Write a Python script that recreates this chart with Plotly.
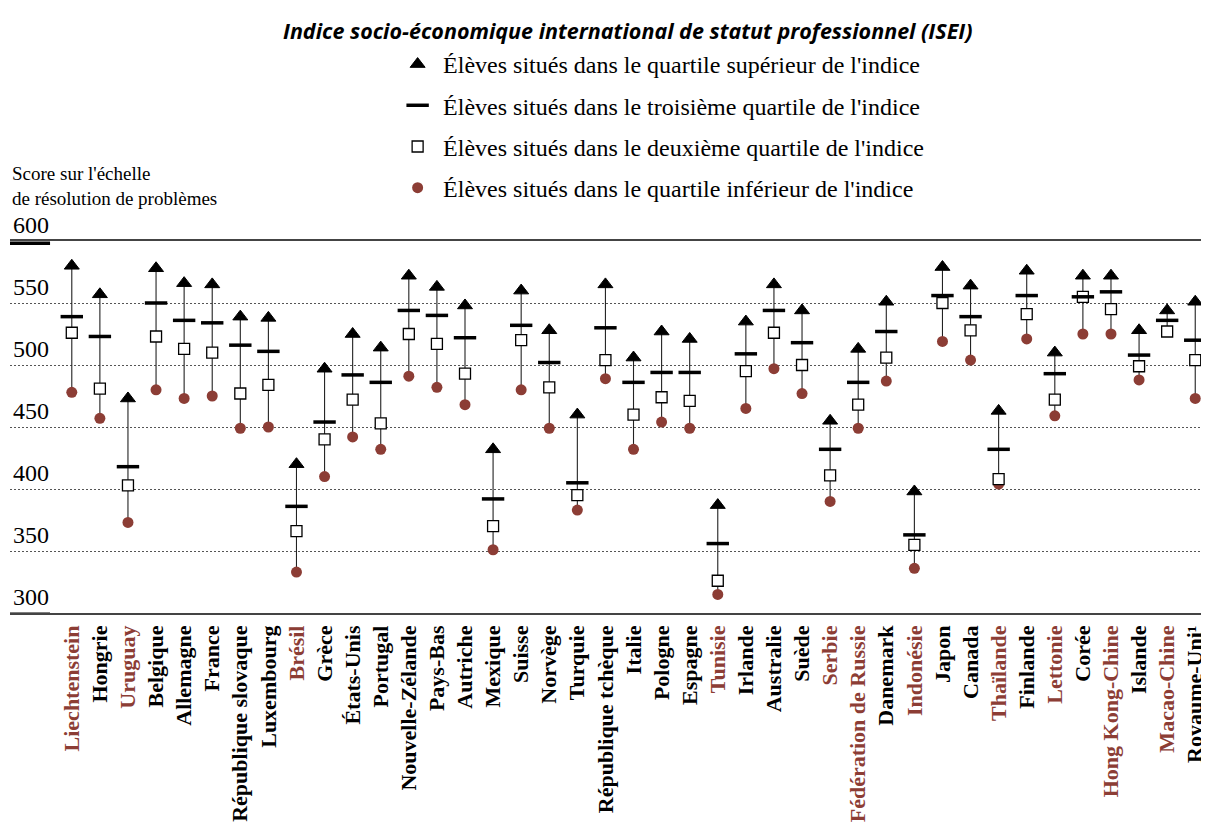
import plotly.graph_objects as go

countries = ["Liechtenstein", "Hongrie", "Uruguay", "Belgique", "Allemagne", "France",
             "République slovaque", "Luxembourg", "Brésil", "Grèce", "États-Unis", "Portugal",
             "Nouvelle-Zélande", "Pays-Bas", "Autriche", "Mexique", "Suisse", "Norvège",
             "Turquie", "République tchèque", "Italie", "Pologne", "Espagne", "Tunisie",
             "Irlande", "Australie", "Suède", "Serbie", "Fédération de Russie", "Danemark",
             "Indonésie", "Japon", "Canada", "Thaïlande", "Finlande", "Lettonie", "Corée",
             "Hong Kong-Chine", "Islande", "Macao-Chine", "Royaume-Uni¹"]
partners = ["Liechtenstein", "Uruguay", "Brésil", "Tunisie", "Serbie", "Fédération de Russie",
            "Indonésie", "Thaïlande", "Lettonie", "Hong Kong-Chine", "Macao-Chine"]

top_quarter = [580, 557, 473, 578, 566, 565, 539, 538, 420, 497, 525, 514, 572, 563, 548, 432,
               560, 528, 460, 565, 506, 527, 521, 387, 535, 565, 544, 455, 513, 551, 398, 579,
               564, 463, 576, 510, 572, 572, 528, 544, 551]
third_quarter = [539, 523, 418, 550, 536, 534, 516, 511, 386, 454, 492, 486, 544, 540, 522, 392,
                 532, 502, 405, 530, 486, 494, 494, 356, 509, 544, 518, 432, 486, 527, 363, 556,
                 539, 432, 556, 493, 555, 559, 508, 536, 520]
second_quarter = [526, 481, 403, 523, 513, 510, 477, 484, 366, 440, 472, 453, 525, 517, 493, 370,
                  520, 482, 395, 504, 460, 474, 471, 326, 495, 526, 500, 411, 468, 506, 355, 550,
                  528, 408, 541, 472, 555, 545, 499, 527, 504]
bottom_quarter = [478, 457, 373, 480, 473, 475, 449, 450, 333, 410, 442, 432, 491, 482, 468, 351,
                  480, 449, 383, 489, 432, 454, 449, 315, 465, 497, 477, 390, 449, 487, 336, 519,
                  504, 404, 521, 459, 525, 525, 488, 527, 473]

y_ticks = [300, 350, 400, 450, 500, 550, 600]

RED = "#8C3D35"
SERIF = "Liberation Serif"

idx = list(range(len(countries)))
ticktext = [f"<span style='color:{RED}'>{c}</span>" if c in partners else c for c in countries]

# connector segments from bottom to top quarter
lx, ly = [], []
for i in idx:
    lx += [i, i, None]
    ly += [bottom_quarter[i], top_quarter[i], None]

fig = go.Figure()
fig.add_trace(go.Scatter(x=lx, y=ly, mode="lines", line=dict(color="#222", width=1.1),
                         showlegend=False, hoverinfo="skip"))
fig.add_trace(go.Scatter(x=idx, y=bottom_quarter, mode="markers", legendrank=4, legendgroup="d",
                         name="Élèves situés dans le quartile inférieur de l'indice",
                         marker=dict(symbol="circle", size=11, color=RED)))
fig.add_trace(go.Scatter(x=idx, y=second_quarter, mode="markers", legendrank=3, legendgroup="c",
                         name="Élèves situés dans le deuxième quartile de l'indice",
                         marker=dict(symbol="square", size=11, color="white",
                                     line=dict(color="black", width=1.3))))
fig.add_trace(go.Scatter(x=idx, y=third_quarter, mode="markers", legendrank=2, legendgroup="b",
                         name="Élèves situés dans le troisième quartile de l'indice",
                         marker=dict(symbol="line-ew", size=16, color="black",
                                     line=dict(color="black", width=3.5))))
fig.add_trace(go.Scatter(x=idx, y=top_quarter, mode="markers", legendrank=1, legendgroup="a",
                         name="Élèves situés dans le quartile supérieur de l'indice",
                         marker=dict(symbol="triangle-up", size=13, color="black",
                                     line=dict(color="black", width=1))))

# page has an 8px body margin: figure is sized so that the plot area lands at x 10-1209, y 241-613
fig.update_layout(
    width=1201, height=816,
    margin=dict(l=2, r=0, t=233, b=211),
    paper_bgcolor="white", plot_bgcolor="white",
    font=dict(family=SERIF, color="black"),
    legend=dict(x=0.3187, y=1.535, xanchor="left", yanchor="top", tracegroupgap=7,
                itemwidth=41,
                font=dict(family=SERIF, size=24, color="black"), bgcolor="rgba(0,0,0,0)"),
    xaxis=dict(range=[-2.2, 40.49], tickmode="array", tickvals=idx, ticktext=ticktext,
               tickangle=-90, ticks="", showgrid=False, zeroline=False,
               showline=True, mirror=True, linecolor="#444", linewidth=1.5,
               tickfont=dict(family=SERIF, size=22, color="black", weight="bold"),
               ticklabelstandoff=2),
    yaxis=dict(range=[300, 600], tickmode="array", tickvals=y_ticks,
               ticklabelposition="inside top", ticklabeloverflow="allow",
               tickfont=dict(family=SERIF, size=24, color="black"),
               showgrid=True, gridcolor="#555", griddash="2px,2px", gridwidth=1.3,
               zeroline=False, showline=False, ticks=""),
)

fig.add_annotation(text="<b><i>Indice socio-économique international de statut professionnel (ISEI)</i></b>",
                   xref="paper", yref="paper", x=0.5146, y=1.567, xanchor="center", yanchor="middle",
                   showarrow=False, font=dict(family="Open Sans", size=21.5, color="black"))
fig.add_annotation(text="Score sur l'échelle<br>de résolution de problèmes",
                   xref="paper", yref="paper", x=0, y=1.148, xanchor="left", yanchor="middle",
                   align="left", showarrow=False, font=dict(family=SERIF, size=19, color="black"))

for v, a, b in [(600, -0.5, -4.0), (300, 0.5, -3.0)]:
    fig.add_shape(type="rect", xref="paper", x0=0, x1=0.0334, yref="y", ysizemode="pixel",
                  yanchor=v, y0=a, y1=b, fillcolor="black", line=dict(width=0))

fig.write_html("out.html")
